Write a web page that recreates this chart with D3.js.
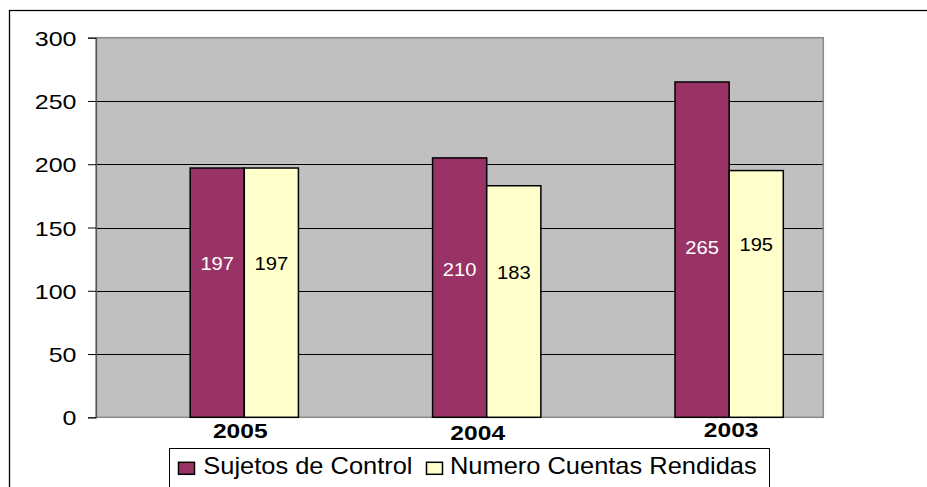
<!DOCTYPE html>
<html>
<head>
<meta charset="utf-8">
<script src="https://cdn.jsdelivr.net/npm/d3@7/dist/d3.min.js"></script>
<style>
  html, body { margin: 0; padding: 0; background: #fff; }
  svg { display: block; }
  text { font-family: "Liberation Sans", Arial, sans-serif; }
</style>
</head>
<body>
<svg id="chart" width="927" height="487"></svg>
<script>
// ---- data ----
const years = ["2005", "2004", "2003"];
const seriesNames = ["Sujetos de Control", "Numero Cuentas Rendidas"];
const sujetosValues = [197, 205, 265];
const numeroValues = [197, 183, 195];
const sujetosLabels = ["197", "210", "265"];
const numeroLabels = ["197", "183", "195"];
const yTicks = [0, 50, 100, 150, 200, 250, 300];

// ---- layout ----
const W = 927, H = 487;
const plot = { left: 96, top: 37.7, right: 823.3, bottom: 417.3 };
const colors = { sujetos: "#993366", numero: "#FFFFCC" };
// vertical anchor of the value labels (in data units), as placed in the original
const labelLevel = [[121.5, 121.5], [116.8, 114.2], [134.4, 136.4]];
const yearNudge = [[-4, 0], [-9, 2], [2, -0.7]];

const svg = d3.select("#chart");

// outer frame
svg.append("rect")
  .attr("x", 9.5).attr("y", 10.5)
  .attr("width", 1000).attr("height", 600)
  .attr("fill", "#fff").attr("stroke", "#000").attr("stroke-width", 1.3);

const x0 = d3.scaleBand()
  .domain(years)
  .range([plot.left, plot.right])
  .paddingInner(0.33)
  .paddingOuter(0.165);

// first slot is an empty series in the original workbook
const x1 = d3.scaleBand()
  .domain(["_empty", "sujetos", "numero"])
  .range([0, x0.bandwidth()]);

const y = d3.scaleLinear().domain([0, 300]).range([plot.bottom, plot.top]);

// plot area
svg.append("rect")
  .attr("x", plot.left).attr("y", plot.top)
  .attr("width", plot.right - plot.left).attr("height", plot.bottom - plot.top)
  .attr("fill", "#C0C0C0");

// gridlines
svg.append("g")
  .selectAll("line")
  .data(yTicks.filter(d => d > 0 && d < 300))
  .join("line")
  .attr("x1", plot.left).attr("x2", plot.right)
  .attr("y1", d => Math.round(y(d)) + 0.5).attr("y2", d => Math.round(y(d)) + 0.5)
  .attr("stroke", "#000").attr("stroke-width", 1);

// plot border
svg.append("rect")
  .attr("x", plot.left).attr("y", plot.top)
  .attr("width", plot.right - plot.left).attr("height", plot.bottom - plot.top)
  .attr("fill", "none").attr("stroke", "#8a8a8a").attr("stroke-width", 1.5);

// y axis
const yAxis = d3.axisLeft(y).tickValues(yTicks).tickSize(8).tickPadding(4).tickFormat(d3.format("d"));
const gy = svg.append("g").attr("transform", `translate(${plot.left},0)`).call(yAxis);
gy.select(".domain").attr("stroke", "#555").attr("stroke-width", 1.2);
gy.selectAll(".tick line").attr("stroke", "#000");
gy.selectAll(".tick text").remove();
gy.selectAll(".tick").append("text")
  .attr("transform", "translate(-19.5,0) scale(1.19,1)")
  .attr("text-anchor", "end")
  .attr("dy", "0.36em")
  .attr("fill", "#000")
  .attr("font-size", 21)
  .text(d => d);

// bars
const rows = years.map((yr, i) => ({
  year: yr, i,
  bars: [
    { key: "sujetos", value: sujetosValues[i], label: sujetosLabels[i], level: labelLevel[i][0] },
    { key: "numero", value: numeroValues[i], label: numeroLabels[i], level: labelLevel[i][1] }
  ]
}));

const groups = svg.append("g").selectAll("g")
  .data(rows).join("g")
  .attr("transform", d => `translate(${x0(d.year)},0)`);

groups.selectAll("rect")
  .data(d => d.bars).join("rect")
  .attr("x", d => x1(d.key))
  .attr("y", d => y(d.value))
  .attr("width", x1.bandwidth())
  .attr("height", d => y(0) - y(d.value))
  .attr("fill", d => colors[d.key])
  .attr("stroke", "#000").attr("stroke-width", 1.5);

groups.selectAll("text.val")
  .data(d => d.bars).join("text")
  .attr("class", "val")
  .attr("transform", d => `translate(${x1(d.key) + x1.bandwidth() / 2},${y(d.level)}) scale(1.12,1)`)
  .attr("text-anchor", "middle")
  .attr("dy", "0.36em")
  .attr("font-size", 18)
  .attr("fill", d => d.key === "sujetos" ? "#fff" : "#000")
  .text(d => d.label);

// category labels (centered under the visible pair of bars)
svg.append("g").selectAll("text")
  .data(rows).join("text")
  .attr("transform", d => {
    const cx = x0(d.year) + x1("sujetos");
    const xx = cx + x1.bandwidth() + yearNudge[d.i][0];
    return `translate(${xx},${438 + yearNudge[d.i][1]}) scale(1.23,1)`;
  })
  .attr("text-anchor", "middle")
  .attr("font-size", 20)
  .attr("font-weight", "bold")
  .attr("fill", "#000")
  .text(d => d.year);

// legend
const lg = svg.append("g");
lg.append("rect")
  .attr("x", 169.5).attr("y", 448.5)
  .attr("width", 600).attr("height", 60)
  .attr("fill", "#fff").attr("stroke", "#000").attr("stroke-width", 1);

const legendItems = [
  { key: "sujetos", name: seriesNames[0], sx: 178.5, tx: 203.3 },
  { key: "numero", name: seriesNames[1], sx: 426.5, tx: 450 }
];
lg.selectAll("rect.sw")
  .data(legendItems).join("rect")
  .attr("class", "sw")
  .attr("x", d => d.sx).attr("y", 462.3)
  .attr("width", 16).attr("height", 12)
  .attr("fill", d => colors[d.key])
  .attr("stroke", "#000").attr("stroke-width", 1.5);
lg.selectAll("text")
  .data(legendItems).join("text")
  .attr("transform", d => `translate(${d.tx},474.3) scale(1.06,1)`)
  .attr("font-size", 24)
  .attr("fill", "#000")
  .text(d => d.name);
</script>
</body>
</html>
